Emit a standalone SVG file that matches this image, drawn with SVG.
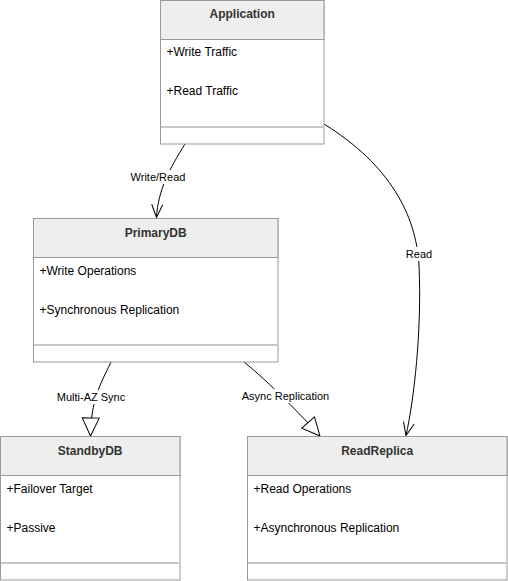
<svg xmlns="http://www.w3.org/2000/svg" width="508" height="581" viewBox="0 0 508 581">
<style>
  .box{fill:#ffffff;stroke:#999999;stroke-width:1}
  .hdr{fill:#eeeeee;stroke:#999999;stroke-width:1}
  .sep{stroke:#c8c8c8;stroke-width:2}
  .title{font-family:"Liberation Sans",Arial,sans-serif;font-size:12px;font-weight:bold;fill:#333333;text-anchor:middle}
  .attr{font-family:"Liberation Sans",Arial,sans-serif;font-size:12px;fill:#000000}
  .edge{fill:none;stroke:#000000;stroke-width:1}
  .lblbg{fill:#ffffff}
  .lbl{font-family:"Liberation Sans",Arial,sans-serif;font-size:11px;fill:#000000;text-anchor:middle}
</style>
<defs>
  <marker id="open" markerUnits="userSpaceOnUse" viewBox="-15 -8 17 16" refX="0" refY="0" markerWidth="17" markerHeight="16" orient="auto" overflow="visible">
    <path d="M-13,-5.5 L0,0 L-13,5.5" fill="none" stroke="#000000" stroke-width="1"/>
  </marker>
  <marker id="tri" markerUnits="userSpaceOnUse" viewBox="-20 -10 22 20" refX="0" refY="0" markerWidth="22" markerHeight="20" orient="auto" overflow="visible">
    <path d="M-18,-8.5 L0,0 L-18,8.5 Z" fill="#ffffff" stroke="#000000" stroke-width="1"/>
  </marker>
</defs>
<rect width="508" height="581" fill="#ffffff"/>

<g id="connectors">
  <path class="edge" d="M185,144 C170,168 158,190 156.5,217.5" marker-end="url(#open)"/>
  <path class="edge" d="M324,124 C390,165 416,215 419,265 C422,330 414,400 406,435.5" marker-end="url(#open)"/>
  <path class="edge" d="M111,362 C100,385 91,400 90.5,436" marker-end="url(#tri)"/>
  <path class="edge" d="M244,362 C268,381 305,419 320,436" marker-end="url(#tri)"/>
  <rect class="lblbg" x="130" y="170" width="56" height="14"/>
  <text class="lbl" x="158" y="181">Write/Read</text>
  <rect class="lblbg" x="405" y="247" width="28" height="14"/>
  <text class="lbl" x="419" y="258">Read</text>
  <rect class="lblbg" x="56" y="390" width="70" height="14"/>
  <text class="lbl" x="91" y="401">Multi-AZ Sync</text>
  <rect class="lblbg" x="241" y="389" width="89" height="14"/>
  <text class="lbl" x="285.5" y="400">Async Replication</text>
</g>

<g id="Application">
  <rect class="box" x="160.5" y="0.5" width="163.5" height="143.5"/>
  <rect class="hdr" x="160.5" y="0.5" width="163.5" height="39"/>
  <line class="sep" x1="161" y1="127" x2="323.5" y2="127"/>
  <text class="title" x="242.2" y="18">Application</text>
  <text class="attr" x="166.5" y="56">+Write Traffic</text>
  <text class="attr" x="166.5" y="95">+Read Traffic</text>
</g>

<g id="PrimaryDB">
  <rect class="box" x="33.5" y="218.5" width="244.5" height="143.5"/>
  <rect class="hdr" x="33.5" y="218.5" width="244.5" height="39"/>
  <line class="sep" x1="34" y1="345" x2="277.5" y2="345"/>
  <text class="title" x="155.7" y="236.5">PrimaryDB</text>
  <text class="attr" x="39.5" y="275">+Write Operations</text>
  <text class="attr" x="39.5" y="314">+Synchronous Replication</text>
</g>

<g id="StandbyDB">
  <rect class="box" x="0.5" y="436.5" width="179.5" height="143.5"/>
  <rect class="hdr" x="0.5" y="436.5" width="179.5" height="39"/>
  <line class="sep" x1="1" y1="563" x2="179.5" y2="563"/>
  <text class="title" x="90.2" y="454.5">StandbyDB</text>
  <text class="attr" x="6.5" y="493">+Failover Target</text>
  <text class="attr" x="6.5" y="532">+Passive</text>
</g>

<g id="ReadReplica">
  <rect class="box" x="247.5" y="436.5" width="259.5" height="143.5"/>
  <rect class="hdr" x="247.5" y="436.5" width="259.5" height="39"/>
  <line class="sep" x1="248" y1="563" x2="506.5" y2="563"/>
  <text class="title" x="377.2" y="454.5">ReadReplica</text>
  <text class="attr" x="253.5" y="493">+Read Operations</text>
  <text class="attr" x="253.5" y="532">+Asynchronous Replication</text>
</g>
</svg>
